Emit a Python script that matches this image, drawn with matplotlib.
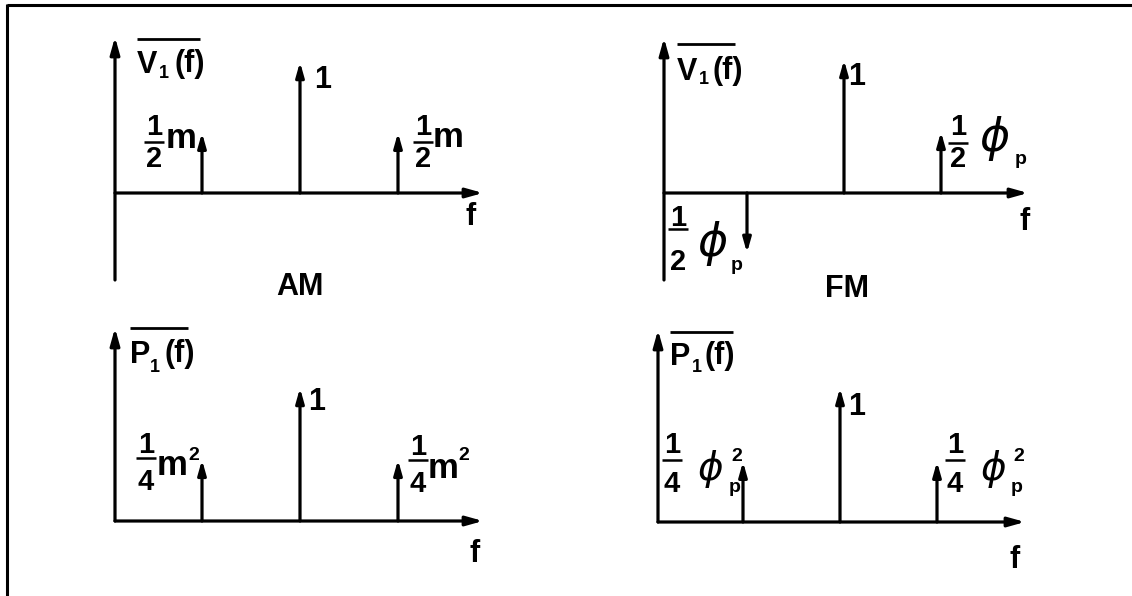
import matplotlib.pyplot as plt

W, H = 1132, 596

# Spectral lines: frequency offset from the carrier (units of the modulating
# frequency) and relative line height for each of the four spectra.
offsets = [-1, 0, 1]
am_voltage = [0.46, 1.0, 0.46]
fm_voltage = [-0.45, 1.0, 0.46]
am_power = [0.46, 1.0, 0.46]
fm_power = [0.45, 1.0, 0.45]

FONT = "Liberation Sans"
BIG = 22
FRAC = 21
LW = 2.3

plt.rcParams["font.family"] = [FONT, "DejaVu Sans"]

fig = plt.figure(figsize=(W / 100, H / 100), dpi=100)
fig.patch.set_facecolor("white")

# full-figure overlay in pixel units for the frame and the lettering
txt = fig.add_axes([0, 0, 1, 1], zorder=5)
txt.set_xlim(0, W)
txt.set_ylim(H, 0)
txt.axis("off")
txt.patch.set_alpha(0)

# frame (only the top and left edges are inside the sheet)
txt.plot([7, W], [5, 5], color="k", lw=2.2, solid_capstyle="butt")
txt.plot([7, 7], [4, H], color="k", lw=2.2, solid_capstyle="butt")


def arrow(ax, x0, y0, x1, y1, hl=0.85, hw=0.24):
    ax.annotate("", xy=(x1, y1), xytext=(x0, y0),
                arrowprops=dict(arrowstyle=f"-|>,head_length={hl},head_width={hw}",
                                lw=LW, color="k", shrinkA=0, shrinkB=0),
                annotation_clip=False)


def spectrum(values, ox, oy, cx, sx, sy, xend, ytop, ybot):
    """Panel whose data units are (frequency offset, relative amplitude)."""
    x0, x1 = ox - 25, xend + 25
    y0, y1 = ytop - 15, ybot + 15
    ax = fig.add_axes([x0 / W, (H - y1) / H, (x1 - x0) / W, (y1 - y0) / H])
    ax.set_xlim((x0 - cx) / sx, (x1 - cx) / sx)
    ax.set_ylim((oy - y1) / sy, (oy - y0) / sy)
    ax.axis("off")
    ax.patch.set_alpha(0)
    fa = (ox - cx) / sx
    arrow(ax, fa, 0, (xend - cx) / sx, 0, hl=1.0, hw=0.28)
    arrow(ax, fa, (oy - ybot) / sy, fa, (oy - ytop) / sy, hl=1.0, hw=0.28)
    for f, v in zip(offsets, values):
        arrow(ax, f, 0, f, v)
    return ax


spectrum(am_voltage, 115, 193, 300, 98, 131, 483, 37, 280)
spectrum(fm_voltage, 664, 193, 844, 97, 133, 1028, 38, 280)
spectrum(am_power, 115, 521, 300, 98, 133, 483, 328, 521)
spectrum(fm_power, 658, 522, 840, 97, 134, 1025, 330, 522)


def t(x, y, s, size=BIG, ha="left", **kw):
    txt.text(x, y, s, fontsize=size, ha=ha, va="baseline",
             fontweight="bold", color="k", **kw)


def overlined(x, y, letter, x1, y1, x2, xend, ybar, ysub):
    t(x, y, letter)
    t(x1, ysub, "1", size=13)
    t(x2, y - 1, "(f)")
    txt.plot([x, xend], [ybar, ybar], color="k", lw=2.0, solid_capstyle="butt")


def frac(xc, ybar, num, den, nb, db, half=10):
    t(xc, nb, num, size=FRAC, ha="center")
    t(xc, db, den, size=FRAC, ha="center")
    txt.plot([xc - half, xc + half], [ybar, ybar], color="k", lw=1.8,
             solid_capstyle="butt")


def phi(x, y, size=27):
    txt.text(x, y, "\u03d5", fontsize=size, ha="left", va="baseline",
             family="DejaVu Sans", style="oblique", fontweight="normal", color="k")


# --- AM, voltage spectrum
overlined(137, 73, "V", 159, 78, 175, 200, 39, 78)
t(314, 88, "1")
frac(154, 142, "1", "2", 135, 167)
t(166, 148, "m", size=25)
frac(423, 142, "1", "2", 135, 167)
t(433, 147, "m", size=25)
t(466, 225, "f")
t(300, 295, "AM", ha="center")

# --- FM, voltage spectrum
overlined(677, 80, "V", 699, 84, 712, 735, 44, 84)
t(848, 85, "1")
frac(958, 143, "1", "2", 135, 167)
phi(980, 151, size=33)
t(1015, 164, "p", size=14)
frac(678, 229, "1", "2", 226, 270)
phi(698, 256, size=33)
t(731, 270, "p", size=14)
t(1020, 230, "f")
t(847, 297, "FM", ha="center")

# --- AM, power spectrum
overlined(130, 363, "P", 150, 372, 165, 188, 328, 372)
t(308, 410, "1")
frac(146, 458, "1", "4", 453, 490)
t(157, 475, "m", size=25)
t(188, 460, "2", size=14)
frac(418, 460, "1", "4", 455, 492)
t(428, 478, "m", size=25)
t(458, 460, "2", size=14)
t(469, 562, "f")

# --- FM, power spectrum
overlined(670, 365, "P", 692, 372, 705, 733, 332, 372)
t(848, 415, "1")
frac(672, 460, "1", "4", 453, 492)
phi(698, 480, size=28)
t(731, 461, "2", size=14)
t(729, 492, "p", size=14)
frac(955, 460, "1", "4", 453, 492)
phi(981, 480, size=28)
t(1013, 461, "2", size=14)
t(1011, 492, "p", size=14)
t(1009, 568, "f")

fig.savefig("out.png", dpi=100, facecolor="white")
